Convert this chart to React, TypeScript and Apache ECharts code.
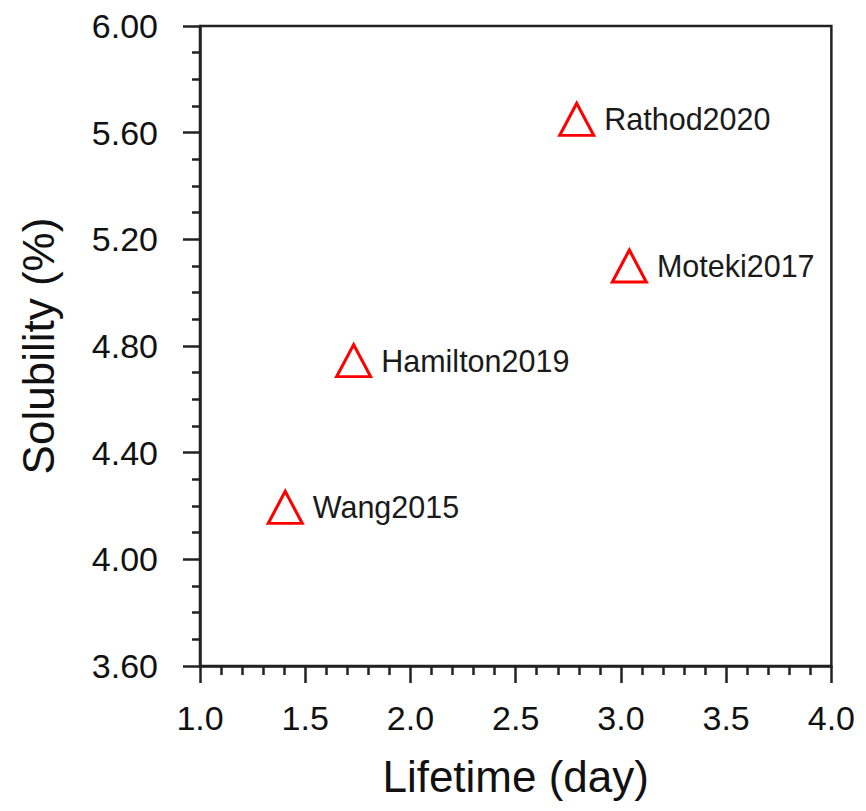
import React, { useEffect, useRef } from "react";
import * as echarts from "echarts";

const studies = ["Wang2015", "Hamilton2019", "Rathod2020", "Moteki2017"];
const lifetimeDays = [1.405, 1.73, 2.79, 3.04];
const solubilityPct = [4.195, 4.745, 5.65, 5.1];

const FONT = "Liberation Sans, Arial, Helvetica, sans-serif";

export default function App() {
  const ref = useRef<HTMLDivElement>(null);
  useEffect(() => {
    if (!ref.current) return;
    const chart = echarts.init(ref.current, undefined, { renderer: "svg" });
    const axisColor = "#222";
    chart.setOption({
      animation: false,
      backgroundColor: "#fff",
      grid: {
        left: 184,
        right: 22,
        top: 18,
        bottom: 132,
        show: true,
        borderColor: axisColor,
        borderWidth: 2.5,
        containLabel: false,
      },
      xAxis: {
        type: "value",
        min: 1.0,
        max: 4.0,
        interval: 0.5,
        name: "Lifetime (day)",
        nameLocation: "middle",
        nameGap: 88,
        nameTextStyle: { fontSize: 44, color: "#111", fontFamily: FONT },
        axisLine: { show: true, lineStyle: { color: axisColor, width: 2.5 } },
        axisTick: { show: true, inside: false, length: 17, lineStyle: { color: axisColor, width: 2.5 } },
        minorTick: { show: true, splitNumber: 5, length: 9, lineStyle: { color: axisColor, width: 2.5 } },
        splitLine: { show: false },
        axisLabel: {
          fontSize: 34,
          color: "#111",
          fontFamily: FONT,
          margin: 35,
          formatter: (v: number) => v.toFixed(1),
        },
      },
      yAxis: {
        type: "value",
        min: 3.6,
        max: 6.0,
        interval: 0.4,
        name: "Solubility (%)",
        nameLocation: "middle",
        nameGap: 140,
        nameTextStyle: { fontSize: 44, color: "#111", fontFamily: FONT },
        axisLine: { show: true, lineStyle: { color: axisColor, width: 2.5 } },
        axisTick: { show: true, inside: false, length: 17, lineStyle: { color: axisColor, width: 2.5 } },
        minorTick: { show: true, splitNumber: 4, length: 8, lineStyle: { color: axisColor, width: 2.5 } },
        splitLine: { show: false },
        axisLabel: {
          fontSize: 34,
          color: "#111",
          fontFamily: FONT,
          margin: 42,
          formatter: (v: number) => v.toFixed(2),
        },
      },
      series: [
        {
          type: "scatter",
          data: studies.map((n, i) => ({ name: n, value: [lifetimeDays[i], solubilityPct[i]] })),
          symbol: "triangle",
          symbolSize: [34, 32],
          itemStyle: { color: "rgba(255,255,255,0)", borderColor: "#ff0000", borderWidth: 3, opacity: 1 },
          label: {
            show: true,
            position: "right",
            distance: 9,
            formatter: (p: any) => p.name,
            fontSize: 30.5,
            color: "#1a1a1a",
            fontFamily: FONT,
          },
        },
      ],
    });
    return () => chart.dispose();
  }, []);
  return <div ref={ref} style={{ width: 850, height: 795 }} />;
}
